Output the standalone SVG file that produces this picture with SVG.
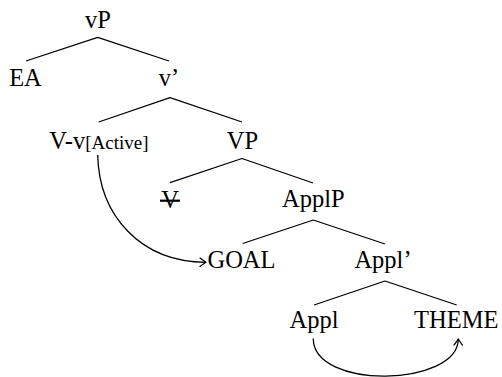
<svg xmlns="http://www.w3.org/2000/svg" width="502" height="377" viewBox="0 0 502 377">
<style>
text{font-size:24.5px;fill:#000;text-anchor:middle}
.small{font-size:19px}
.edge{stroke:#000;stroke-width:1.3;fill:none}
.mv{stroke:#000;stroke-width:1.3;fill:none;marker-end:url(#to)}
</style>
<defs>
<marker id="to" markerUnits="userSpaceOnUse" viewBox="-8 -6 10 12" refX="0" refY="0" markerWidth="10" markerHeight="12" orient="auto" overflow="visible">
<path d="M-6,-4.2 Q-1.5,-0.8 0,0 Q-1.5,0.8 -6,4.2" fill="none" stroke="#000" stroke-width="1.3" stroke-linecap="round" stroke-linejoin="round"/>
</marker>
</defs>
<rect width="502" height="377" fill="#fff"/>
<g id="edges">
<path class="edge" d="M97.7,37.3L26,61M97.7,37.3L169,61"/>
<path class="edge" d="M170,97.7L98.7,122M170,97.7L242,122"/>
<path class="edge" d="M242,158.5L170,182.7M242,158.5L313,183"/>
<path class="edge" d="M313.3,220L242.7,243.5M313.3,220L385,244"/>
<path class="edge" d="M385,281L314,305M385,281L456.7,305"/>
<path class="mv" d="M97.7,155C99,215 140,262 206,262.3"/>
<path class="mv" d="M313.3,338.5C313,390 458,387 458.3,339"/>
</g>
<g font-family="Liberation Serif, serif">
<g id="vP"><text x="98" y="28">vP</text></g>
<g id="EA"><text x="25.5" y="86">EA</text></g>
<g id="vbar"><text x="169" y="86">v’</text></g>
<g id="Vv"><text x="49.3" y="149" style="text-anchor:start">V-v<tspan class="small">[Active]</tspan></text></g>
<g id="VP"><text x="242.5" y="149">VP</text></g>
<g id="Vstruck"><text x="170" y="208">V</text><line x1="160" y1="200.7" x2="180" y2="200.7" stroke="#000" stroke-width="2.2"/></g>
<g id="ApplP"><text x="313.3" y="207">ApplP</text></g>
<g id="GOAL"><text x="241.5" y="268">GOAL</text></g>
<g id="Applbar"><text x="383" y="268">Appl’</text></g>
<g id="Appl"><text x="314" y="328">Appl</text></g>
<g id="THEME"><text x="456.3" y="328">THEME</text></g>
</g>
</svg>
